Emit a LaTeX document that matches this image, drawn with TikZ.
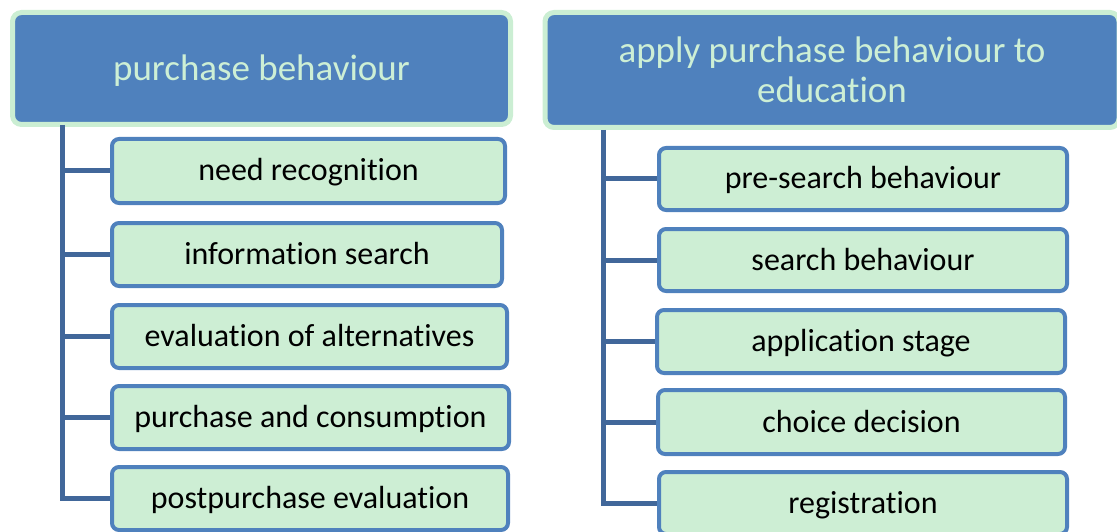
\documentclass[tikz,border=0pt]{standalone}
\usepackage{fontspec}
\setmainfont[Ligatures=NoCommon]{Carlito}
\definecolor{hdrfill}{HTML}{4F81BD}
\definecolor{hdrline}{HTML}{CBEED3}
\definecolor{hdrtext}{HTML}{CDEFD5}
\definecolor{kidfill}{HTML}{CDEED4}
\definecolor{kidline}{HTML}{4F81BD}
\definecolor{conn}{HTML}{41679A}
\begin{document}
\begin{tikzpicture}[x=1pt,y=-1pt,
  hdr/.style={draw=hdrline,fill=hdrfill,line width=5pt,rounded corners=9pt,
    text=hdrtext,font=\fontsize{37}{40}\selectfont,align=center,
    inner sep=0pt,anchor=center},
  kid/.style={draw=kidline,fill=kidfill,line width=4pt,rounded corners=7pt,
    text=black,font=\fontsize{32}{36}\selectfont,inner sep=0pt,anchor=center,
    text height=22pt,text depth=2pt},
  link/.style={draw=conn,line width=5pt}]
\useasboundingbox (0,0) rectangle (1117,532);
% headers
\node[hdr,minimum width=498pt,minimum height=112pt,text height=25pt,text depth=1pt] (h1) at (261.5,68.5) {purchase behaviour};
\node[hdr,minimum width=574pt,minimum height=115pt] (h2) at (832,70) {apply purchase behaviour to\\education};
% left children
\node[kid,minimum width=393pt,minimum height=64pt] (a1) at (308.5,171) {need recognition};
\node[kid,minimum width=390pt,minimum height=63pt] (a2) at (307,254.5) {information search};
\node[kid,minimum width=395pt,minimum height=63pt] (a3) at (309.5,336.5) {evaluation of alternatives};
\node[kid,minimum width=397pt,minimum height=63pt] (a4) at (310.5,417.5) {purchase and consumption};
\node[kid,minimum width=396pt,minimum height=63pt] (a5) at (310,498.5) {postpurchase evaluation};
% right children
\node[kid,minimum width=408pt,minimum height=62pt] (b1) at (863,179) {pre-search behaviour};
\node[kid,minimum width=408pt,minimum height=62pt] (b2) at (863,260) {search behaviour};
\node[kid,minimum width=408pt,minimum height=63pt] (b3) at (861,341.5) {application stage};
\node[kid,minimum width=407pt,minimum height=64pt] (b4) at (861.5,422) {choice decision};
\node[kid,minimum width=408pt,minimum height=62pt] (b5) at (863,503) {registration};
% connectors
\coordinate (t1) at (62,125);
\coordinate (t2) at (603,130);
\draw[link] (t1) |- (a5.west);
\foreach \n in {a1,a2,a3,a4} \draw[link] (t1 |- \n.west) -- (\n.west);
\draw[link] (t2) |- (b5.west);
\foreach \n in {b1,b2,b3,b4} \draw[link] (t2 |- \n.west) -- (\n.west);
\end{tikzpicture}
\end{document}
